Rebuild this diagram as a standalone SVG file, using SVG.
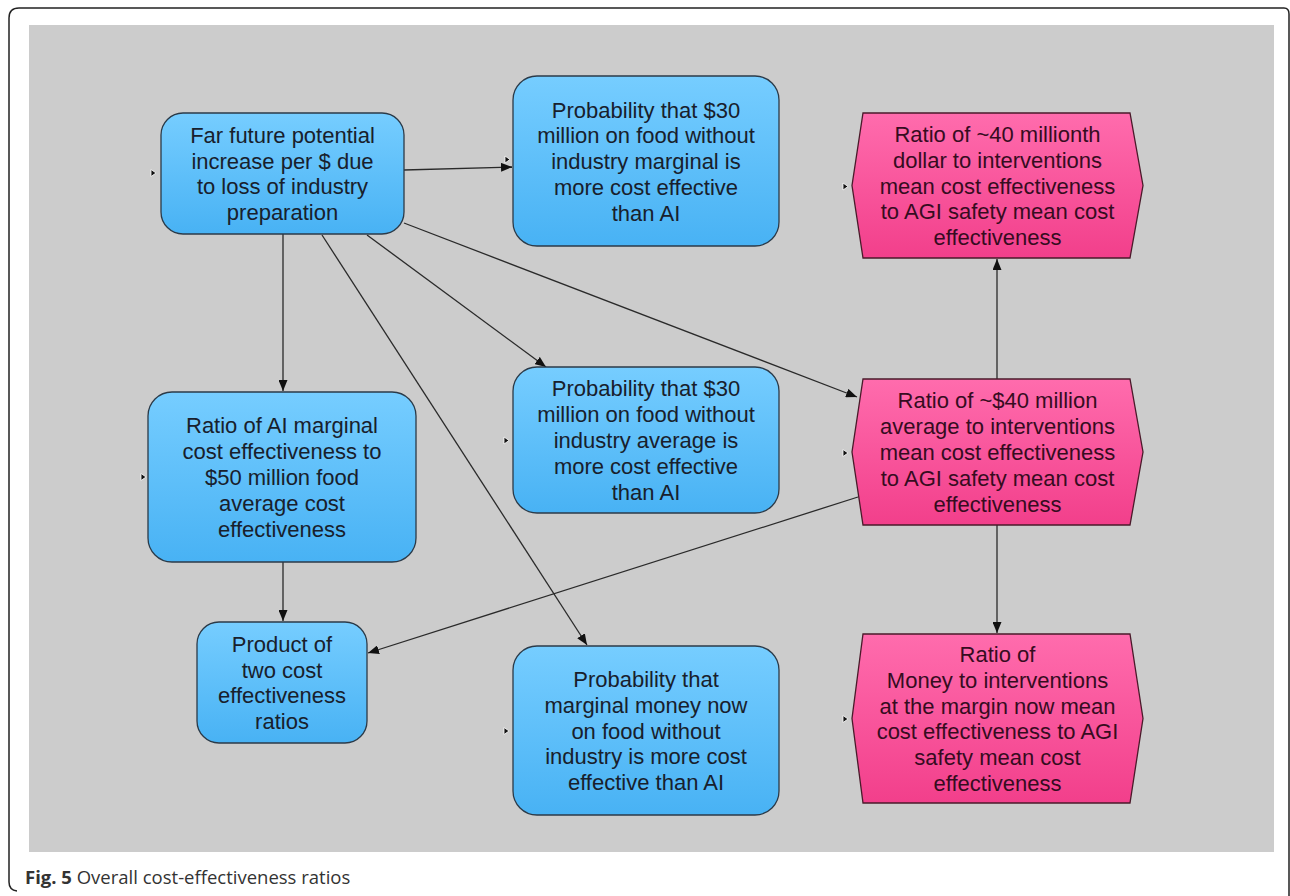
<svg xmlns="http://www.w3.org/2000/svg" width="1290" height="896" viewBox="0 0 1290 896">
<defs>
<linearGradient id="gBlue" x1="0" y1="0" x2="0" y2="1">
<stop offset="0" stop-color="#76cdff"/>
<stop offset="1" stop-color="#48b2f4"/>
</linearGradient>
<linearGradient id="gPink" x1="0" y1="0" x2="0" y2="1">
<stop offset="0" stop-color="#ff6cad"/>
<stop offset="1" stop-color="#f23f8b"/>
</linearGradient>
<marker id="arr" viewBox="0 0 11 9" refX="11" refY="4.5" markerWidth="11" markerHeight="9" markerUnits="userSpaceOnUse" orient="auto">
<path d="M0,0 L11,4.5 L0,9 z" fill="#111"/>
</marker>
<style>
.blue{fill:url(#gBlue);stroke:#2b3a48;stroke-width:1.3}
.pink{fill:url(#gPink);stroke:#4a1a2a;stroke-width:1.3}
.t{font-family:"Liberation Sans",Arial,sans-serif;font-size:22px;text-anchor:middle;fill:#18202c}
.tp{font-family:"Liberation Sans",Arial,sans-serif;font-size:22px;text-anchor:middle;fill:#360c1f}
.in{fill:#111;stroke:#fff;stroke-width:0.8}
.edge{stroke:#2a2a2a;stroke-width:1.3;fill:none;marker-end:url(#arr)}
.cap{font-family:"Open Sans","Liberation Sans",sans-serif;font-size:18.5px;fill:#333}
</style>
</defs>
<rect x="0" y="0" width="1290" height="896" fill="#fff"/>
<path d="M1289,896 L1289,14 Q1289,8 1284,8 L19,8 Q9,8 9,18 L9,882 Q9,890 17,891" fill="none" stroke="#222" stroke-width="1.5"/>
<rect x="29" y="25" width="1245" height="827" fill="#cccccc"/>

<g id="connectors">
<path class="edge" d="M404,170 L512,167"/>
<path class="edge" d="M283,234 L283,391"/>
<path class="edge" d="M283,562 L283,621"/>
<path class="edge" d="M367,235 L546,367"/>
<path class="edge" d="M322,235 L587,645"/>
<path class="edge" d="M404,223 L857,397"/>
<path class="edge" d="M997,379 L997,259"/>
<path class="edge" d="M997,525 L997,633"/>
<path class="edge" d="M858,497 L368,653"/>
</g>

<g id="nodeA">
<rect class="blue" x="161" y="113" width="243" height="121" rx="22"/>
<polygon class="in" points="151,169.5 156,173 151,176.5"/>
<text class="t"><tspan x="282.5" y="143">Far future potential</tspan><tspan x="282.5" y="168.5">increase per $ due</tspan><tspan x="282.5" y="194">to loss of industry</tspan><tspan x="282.5" y="219.5">preparation</tspan></text>
</g>

<g id="nodeB">
<rect class="blue" x="513" y="76" width="266" height="170" rx="24"/>
<polygon class="in" points="505,156 510,159.5 505,163"/>
<text class="t"><tspan x="646" y="117.5">Probability that $30</tspan><tspan x="646" y="143.3">million on food without</tspan><tspan x="646" y="169">industry marginal is</tspan><tspan x="646" y="194.8">more cost effective</tspan><tspan x="646" y="220.6">than AI</tspan></text>
</g>

<g id="nodeC">
<rect class="blue" x="148" y="392" width="268" height="170" rx="24"/>
<polygon class="in" points="141,473.5 146,477 141,480.5"/>
<text class="t"><tspan x="282" y="433.4">Ratio of AI marginal</tspan><tspan x="282" y="459.2">cost effectiveness to</tspan><tspan x="282" y="485">$50 million food</tspan><tspan x="282" y="510.8">average cost</tspan><tspan x="282" y="536.6">effectiveness</tspan></text>
</g>

<g id="nodeD">
<rect class="blue" x="513" y="367" width="266" height="146" rx="24"/>
<polygon class="in" points="504,437 509,440.5 504,444"/>
<text class="t"><tspan x="646" y="396.4">Probability that $30</tspan><tspan x="646" y="422.2">million on food without</tspan><tspan x="646" y="448">industry average is</tspan><tspan x="646" y="473.8">more cost effective</tspan><tspan x="646" y="499.6">than AI</tspan></text>
</g>

<g id="nodeE">
<rect class="blue" x="513" y="646" width="266" height="169" rx="24"/>
<polygon class="in" points="504,727.5 509,731 504,734.5"/>
<text class="t"><tspan x="646" y="686.9">Probability that</tspan><tspan x="646" y="712.7">marginal money now</tspan><tspan x="646" y="738.5">on food without</tspan><tspan x="646" y="764.3">industry is more cost</tspan><tspan x="646" y="790.1">effective than AI</tspan></text>
</g>

<g id="nodeF">
<rect class="blue" x="197" y="622" width="170" height="121" rx="22"/>
<text class="t"><tspan x="282" y="651.8">Product of</tspan><tspan x="282" y="677.6">two cost</tspan><tspan x="282" y="703.4">effectiveness</tspan><tspan x="282" y="729.2">ratios</tspan></text>
</g>

<g id="nodeP1">
<polygon class="pink" points="863,113 1130,113 1143,185.5 1130,258 863,258 852,185.5"/>
<polygon class="in" points="843,183 848,186.5 843,190"/>
<text class="tp"><tspan x="997.5" y="141.9">Ratio of ~40 millionth</tspan><tspan x="997.5" y="167.7">dollar to interventions</tspan><tspan x="997.5" y="193.5">mean cost effectiveness</tspan><tspan x="997.5" y="219.3">to AGI safety mean cost</tspan><tspan x="997.5" y="245.1">effectiveness</tspan></text>
</g>

<g id="nodeP2">
<polygon class="pink" points="863,379 1130,379 1143,452 1130,525 863,525 852,452"/>
<polygon class="in" points="843,449.5 848,453 843,456.5"/>
<text class="tp"><tspan x="997.5" y="408.4">Ratio of ~$40 million</tspan><tspan x="997.5" y="434.2">average to interventions</tspan><tspan x="997.5" y="460">mean cost effectiveness</tspan><tspan x="997.5" y="485.8">to AGI safety mean cost</tspan><tspan x="997.5" y="511.6">effectiveness</tspan></text>
</g>

<g id="nodeP3">
<polygon class="pink" points="863,634 1130,634 1143,718.5 1130,803 863,803 852,718.5"/>
<polygon class="in" points="843,715.5 848,719 843,722.5"/>
<text class="tp"><tspan x="997.5" y="662">Ratio of</tspan><tspan x="997.5" y="687.8">Money to interventions</tspan><tspan x="997.5" y="713.6">at the margin now mean</tspan><tspan x="997.5" y="739.4">cost effectiveness to AGI</tspan><tspan x="997.5" y="765.2">safety mean cost</tspan><tspan x="997.5" y="791">effectiveness</tspan></text>
</g>

<text class="cap" x="25" y="884"><tspan font-weight="bold">Fig. 5</tspan> Overall cost-effectiveness ratios</text>
</svg>
